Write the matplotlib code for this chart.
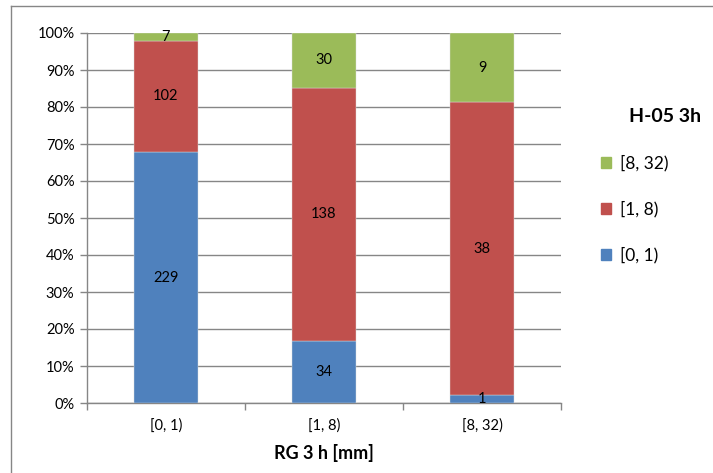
import matplotlib
matplotlib.use("Agg")
import matplotlib.pyplot as plt
import numpy as np
from matplotlib.lines import Line2D
from matplotlib.ticker import PercentFormatter

categories = ["[0, 1)", "[1, 8)", "[8, 32)"]
series_names = ["[0, 1)", "[1, 8)", "[8, 32)"]
counts_0_1 = [229, 34, 1]
counts_1_8 = [102, 138, 38]
counts_8_32 = [7, 30, 9]
colors = ["#4F81BD", "#C0504D", "#9BBB59"]

plt.rcParams['font.family'] = ['Lato', 'DejaVu Sans']

fig = plt.figure(figsize=(7.13, 4.73), dpi=100)
ax = fig.add_axes([87/713, 1-403/473, (561-87)/713, (403-33)/473])

data = np.array([counts_0_1, counts_1_8, counts_8_32], dtype=float)
totals = data.sum(axis=0)
pct = data / totals * 100
x = np.arange(len(categories))
bottom = np.zeros(len(categories))
for i, name in enumerate(series_names):
    bars = ax.bar(x, pct[i], 0.4, bottom=bottom, color=colors[i], label=name, zorder=3,
                  edgecolor='#dddddd', linewidth=0.3)
    for j, b in enumerate(bars):
        ax.text(b.get_x() + b.get_width()/2, bottom[j] + pct[i][j]/2, f"{int(data[i][j])}",
                ha='center', va='center', fontsize=10.5, color='black', zorder=4)
    bottom += pct[i]

ax.set_xlim(-0.5, 2.5)
ax.set_ylim(0, 100)
ax.set_yticks(np.arange(0, 101, 10))
ax.yaxis.set_major_formatter(PercentFormatter(decimals=0))
ax.set_xticks(x)
ax.set_xticklabels(categories)
ax.set_xticks([-0.5, 0.5, 1.5, 2.5], minor=True)
ax.tick_params(axis='x', which='major', length=0, pad=11, labelsize=10.5)
ax.tick_params(axis='x', which='minor', length=5, color='#868686', width=1)
ax.tick_params(axis='y', length=5, color='#868686', width=1, labelsize=10.5, pad=4)
ax.yaxis.grid(True, color='#868686', linewidth=1, zorder=0)
for s in ['top', 'right']:
    ax.spines[s].set_visible(False)
for s in ['left', 'bottom']:
    ax.spines[s].set_color('#868686')
    ax.spines[s].set_linewidth(1)
ax.set_xlabel("RG 3 h [mm]", fontsize=13, fontweight='bold', labelpad=8)

leg_handles = [plt.Rectangle((0, 0), 1, 1, color=colors[i]) for i in [2, 1, 0]]
leg_labels = [series_names[i] for i in [2, 1, 0]]
leg = fig.legend(leg_handles, leg_labels, loc='upper left', bbox_to_anchor=(587/713, 1-141/473),
                 frameon=False, fontsize=12.5, handlelength=0.6, handleheight=0.6,
                 handletextpad=0.5, labelspacing=1.7, borderpad=0.3)
fig.text(665/713, 1-117/473, "H-05 3h", ha='center', va='center', fontsize=14, fontweight='bold')

fig.add_artist(Line2D([11/713, 1], [1-6/473, 1-6/473], color='#868686', linewidth=1, transform=fig.transFigure))
fig.add_artist(Line2D([11/713, 11/713], [0, 1-6/473], color='#868686', linewidth=1, transform=fig.transFigure))

fig.savefig("out.png", dpi=100)
